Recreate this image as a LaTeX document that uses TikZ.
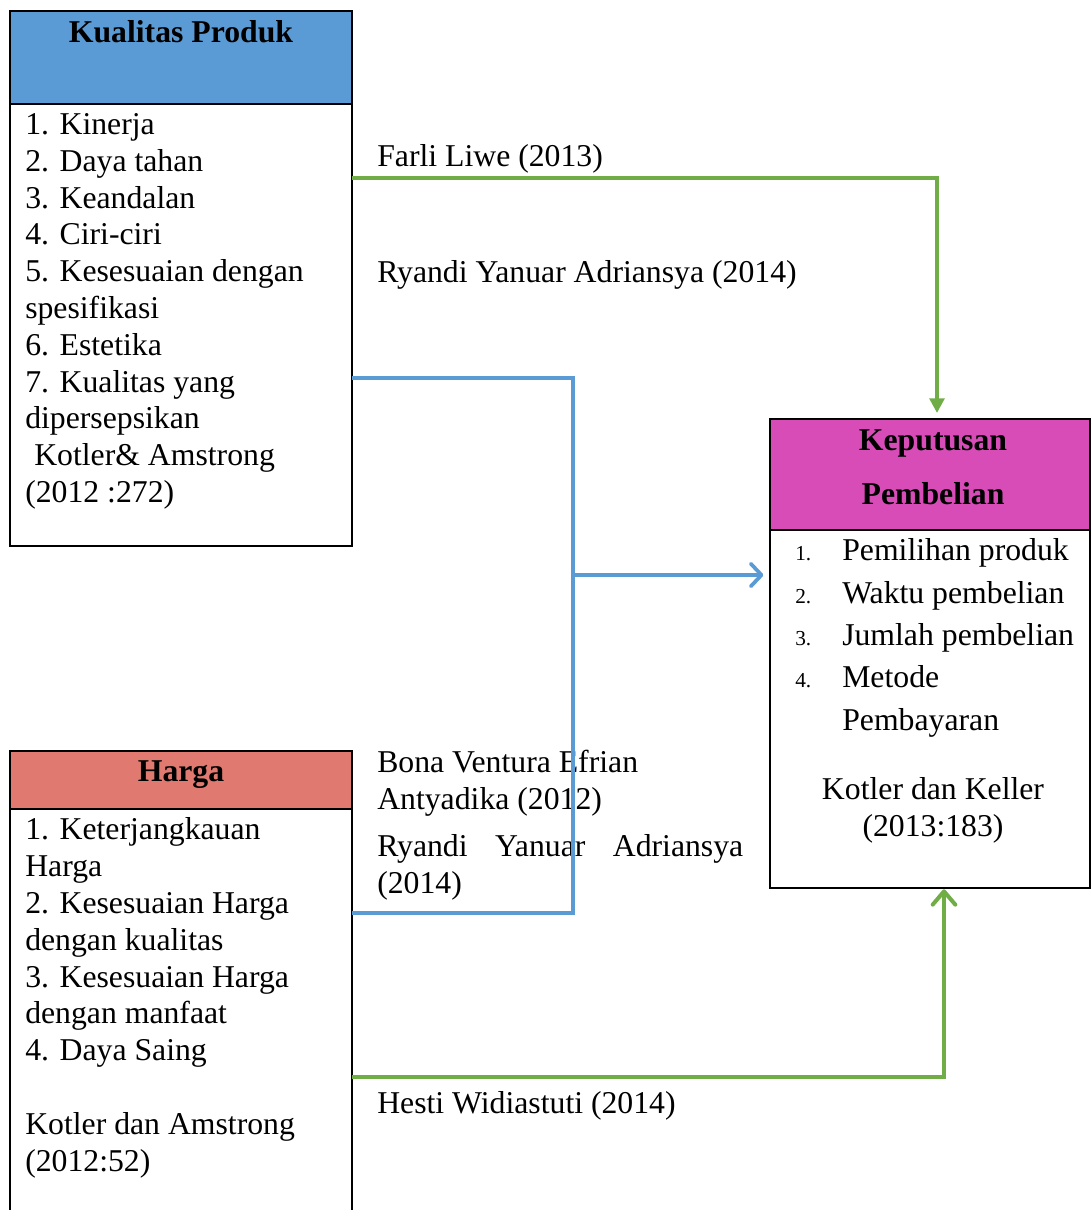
\documentclass[tikz,border=0pt]{standalone}
\usepackage{fontspec}
\setmainfont{Liberation Serif}
\usetikzlibrary{arrows.meta}
\definecolor{kualitasblue}{RGB}{91,155,213}
\definecolor{hargared}{RGB}{224,122,112}
\definecolor{keputusanpink}{RGB}{216,76,184}
\definecolor{linegreen}{RGB}{112,173,71}
\definecolor{lineblue}{RGB}{91,155,213}

\begin{document}
\begin{tikzpicture}[x=0.75pt,y=0.75pt,yscale=-1,xscale=1,
  font=\fontsize{23.8}{27.6}\selectfont,
  box/.style={draw, line width=1.5pt, anchor=north west, inner sep=0pt, outer sep=0pt},
  txt/.style={anchor=base west, align=left, inner sep=0pt},
  title/.style={anchor=base, align=center, inner sep=0pt, font=\fontsize{23.8}{40.5}\selectfont\bfseries},
  greenline/.style={draw=linegreen, line width=3pt},
  blueline/.style={draw=lineblue, line width=2.8pt}]
\useasboundingbox (0,0) rectangle (1091,1210);
\clip (0,0) rectangle (1091,1210);

%Shape: Rectangle [Kualitas Produk]
\node[box, minimum width=256.5pt, minimum height=401.25pt] (kualitas) at (10,11) {};
\node[box, fill=kualitasblue, minimum width=256.5pt, minimum height=69.75pt] (kualitashead) at (10,11) {};
%Shape: Rectangle [Harga]
\node[box, minimum width=256.5pt, minimum height=366.75pt] (harga) at (10,751) {};
\node[box, fill=hargared, minimum width=256.5pt, minimum height=43.5pt] (hargahead) at (10,751) {};
%Shape: Rectangle [Keputusan Pembelian]
\node[box, minimum width=240pt, minimum height=351.75pt] (keputusan) at (770,419) {};
\node[box, fill=keputusanpink, minimum width=240pt, minimum height=83.25pt] (keputusanhead) at (770,419) {};

% Text Node (base = last line)
\node[title] (kualitastitle) at (181,42) {Kualitas Produk};
% Text Node
\node[title] (hargatitle) at (181,781) {Harga};
% Text Node
\node[title] (keputusantitle) at (933,504) {Keputusan\\Pembelian};

% Text Node
\node[txt] (kualitaslist) at (25,502.5) {1. Kinerja\\2. Daya tahan\\3. Keandalan\\4. Ciri-ciri\\5. Kesesuaian dengan\\spesifikasi\\6. Estetika\\7. Kualitas yang\\dipersepsikan\\\hspace*{6.75pt}Kotler\& Amstrong\\(2012 :272)};
% Text Node
\node[txt] (hargalist) at (25,1171) {1. Keterjangkauan\\Harga\\2. Kesesuaian Harga\\dengan kualitas\\3. Kesesuaian Harga\\dengan manfaat\\4. Daya Saing\\[27.6pt]Kotler dan Amstrong\\(2012:52)};
% Text Node
\node[txt, font=\fontsize{23.8}{31.7}\selectfont] (keputusanlist) at (795,730) {\makebox[35.25pt][l]{\fontsize{16}{16}\selectfont 1.}Pemilihan produk\\\makebox[35.25pt][l]{\fontsize{16}{16}\selectfont 2.}Waktu pembelian\\\makebox[35.25pt][l]{\fontsize{16}{16}\selectfont 3.}Jumlah pembelian\\\makebox[35.25pt][l]{\fontsize{16}{16}\selectfont 4.}Metode\\\makebox[35.25pt][l]{}Pembayaran};
% Text Node
\node[anchor=base, align=center, inner sep=0pt] (keputusansource) at (933,836) {Kotler dan Keller\\(2013:183)};

% Text Node
\node[txt] (farli) at (377,166) {Farli Liwe (2013)};
% Text Node
\node[txt] (ryandi) at (377,282) {Ryandi Yanuar Adriansya (2014)};
% Text Node
\node[txt] (bona) at (377,809) {Bona Ventura Efrian\\Antyadika (2012)};
% Text Node
\node[txt] (ryandib) at (377,893) {\makebox[274.5pt][s]{Ryandi Yanuar Adriansya}\\(2014)};
% Text Node
\node[txt] (hesti) at (377,1113) {Hesti Widiastuti (2014)};

%Connectors
\coordinate (g1) at (937,178);
\coordinate (g2) at (944,1077);
\coordinate (b1) at (573,378);
\coordinate (b2) at (573,913);
\coordinate (b3) at (573,575);

\draw[greenline, -{Triangle[length=11pt,width=11pt]}, shorten >=4.5pt] (kualitas.east |- g1) -- (g1) -- (g1 |- keputusan.north);
\draw[blueline] (kualitas.east |- b1) -- (b1) -- (b2) -- (harga.east |- b2);
\draw[blueline, -{Straight Barb[length=8pt,width=17pt,round]}, shorten >=5pt] (b3) -- (keputusan.west |- b3);
\draw[greenline, -{Straight Barb[length=10pt,width=17pt,round]}, shorten >=1pt] (harga.east |- g2) -- (g2) -- (g2 |- keputusan.south);

\end{tikzpicture}
\end{document}
